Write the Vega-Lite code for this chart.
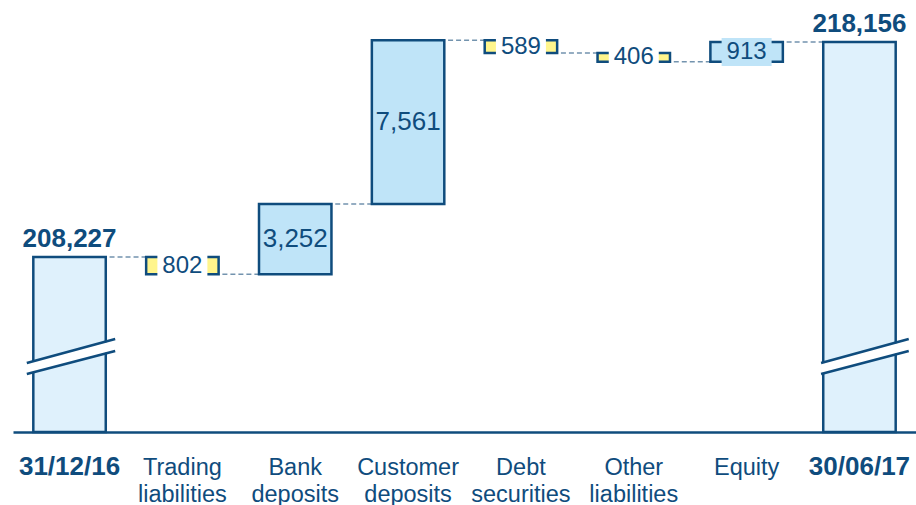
{
  "$schema": "https://vega.github.io/schema/vega-lite/v6.json",
  "width": 903,
  "height": 432,
  "autosize": "none",
  "padding": {"left": 13, "top": 0, "right": 0, "bottom": 73},
  "background": "white",
  "config": {"view": {"stroke": null}, "font": "Liberation Sans"},
  "resolve": {"scale": {"xOffset": "independent"}},
  "datasets": {
    "steps": [
      {"cat": "31/12/16", "lo": 200145, "hi": 208227, "mid": 204186, "kind": "total", "label": "208,227"},
      {"cat": "Trading liabilities", "lo": 207425, "hi": 208227, "mid": 207826, "kind": "down", "label": "802"},
      {"cat": "Bank deposits", "lo": 207425, "hi": 210677, "mid": 209051, "kind": "up", "label": "3,252"},
      {"cat": "Customer deposits", "lo": 210677, "hi": 218238, "mid": 214457, "kind": "up", "label": "7,561"},
      {"cat": "Debt securities", "lo": 217649, "hi": 218238, "mid": 217943, "kind": "down", "label": "589"},
      {"cat": "Other liabilities", "lo": 217243, "hi": 217649, "mid": 217446, "kind": "down", "label": "406"},
      {"cat": "Equity", "lo": 217243, "hi": 218156, "mid": 217699, "kind": "up", "label": "913"},
      {"cat": "30/06/17", "lo": 200145, "hi": 218156, "mid": 209150, "kind": "total", "label": "218,156"}
    ],
    "links": [
      {"cat": "31/12/16", "cat2": "Trading liabilities", "level": 208227},
      {"cat": "Trading liabilities", "cat2": "Bank deposits", "level": 207425},
      {"cat": "Bank deposits", "cat2": "Customer deposits", "level": 210677},
      {"cat": "Customer deposits", "cat2": "Debt securities", "level": 218238},
      {"cat": "Debt securities", "cat2": "Other liabilities", "level": 217649},
      {"cat": "Other liabilities", "cat2": "Equity", "level": 217243},
      {"cat": "Equity", "cat2": "30/06/17", "level": 218156}
    ],
    "breaks": [
      {"cat": "31/12/16", "id": "s0", "type": "mid", "off": -0.09, "v": 203077},
      {"cat": "31/12/16", "id": "s0", "type": "mid", "off": 1.13, "v": 204163},
      {"cat": "31/12/16", "id": "s1", "type": "edge", "off": -0.09, "v": 203331},
      {"cat": "31/12/16", "id": "s1", "type": "edge", "off": 1.13, "v": 204440},
      {"cat": "31/12/16", "id": "s2", "type": "edge", "off": -0.09, "v": 202823},
      {"cat": "31/12/16", "id": "s2", "type": "edge", "off": 1.13, "v": 203886},
      {"cat": "30/06/17", "id": "e0", "type": "mid", "off": -0.03, "v": 203077},
      {"cat": "30/06/17", "id": "e0", "type": "mid", "off": 1.18, "v": 204163},
      {"cat": "30/06/17", "id": "e1", "type": "edge", "off": -0.03, "v": 203331},
      {"cat": "30/06/17", "id": "e1", "type": "edge", "off": 1.18, "v": 204440},
      {"cat": "30/06/17", "id": "e2", "type": "edge", "off": -0.03, "v": 202823},
      {"cat": "30/06/17", "id": "e2", "type": "edge", "off": 1.18, "v": 203886}
    ]
  },
  "encoding": {
    "x": {
      "field": "cat",
      "type": "nominal",
      "sort": null,
      "scale": {
        "domain": ["31/12/16", "Trading liabilities", "Bank deposits", "Customer deposits", "Debt securities", "Other liabilities", "Equity", "30/06/17"],
        "paddingInner": 0.358,
        "paddingOuter": 0.18
      },
      "axis": {
        "title": null,
        "orient": "bottom",
        "grid": false,
        "domainColor": "#0f4c7d",
        "domainWidth": 2.5,
        "ticks": false,
        "tickSize": 0,
        "labelPadding": 42,
        "labelBaseline": "alphabetic",
        "labelAngle": 0,
        "labelColor": "#0f4c7d",
        "labelFont": "Liberation Sans",
        "labelFontSize": {"condition": {"test": "indexof(datum.value, '/') > 0", "value": 26}, "value": 23.5},
        "labelFontWeight": {"condition": {"test": "indexof(datum.value, '/') > 0", "value": "bold"}, "value": "normal"},
        "labelLineHeight": 27,
        "labelExpr": "indexof(datum.value, ' ') > 0 ? split(datum.value, ' ') : datum.value",
        "labelOverlap": false,
        "labelBound": false,
        "labelLimit": 300
      }
    }
  },
  "layer": [
    {
      "data": {"name": "links"},
      "mark": {"type": "rule", "strokeDash": [5, 3], "strokeWidth": 1.5, "color": "#7393ae"},
      "encoding": {
        "x2": {"field": "cat2"},
        "y": {"field": "level", "type": "quantitative", "scale": {"domain": [200145, 220096], "nice": false, "zero": false}, "axis": null}
      }
    },
    {
      "data": {"name": "steps"},
      "mark": {"type": "bar", "stroke": "#0f4c7d", "strokeWidth": 2.5},
      "encoding": {
        "y": {"field": "lo", "type": "quantitative", "scale": {"domain": [200145, 220096], "nice": false, "zero": false}, "axis": null},
        "y2": {"field": "hi"},
        "color": {"field": "kind", "type": "nominal", "scale": {"domain": ["total", "up", "down"], "range": ["#dff1fc", "#bfe4f8", "#fff58c"]}, "legend": null}
      }
    },
    {
      "data": {"name": "breaks"},
      "transform": [{"filter": "datum.type == 'mid'"}],
      "mark": {"type": "line", "color": "white", "strokeWidth": 10, "strokeCap": "butt"},
      "encoding": {
        "xOffset": {"field": "off", "type": "quantitative", "scale": {"domain": [0, 1], "nice": false, "zero": false}},
        "y": {"field": "v", "type": "quantitative", "scale": {"domain": [200145, 220096], "nice": false, "zero": false}, "axis": null},
        "detail": {"field": "id"},
        "order": {"field": "off"}
      }
    },
    {
      "data": {"name": "breaks"},
      "transform": [{"filter": "datum.type == 'edge'"}],
      "mark": {"type": "line", "color": "#0f4c7d", "strokeWidth": 2.5, "strokeCap": "butt"},
      "encoding": {
        "xOffset": {"field": "off", "type": "quantitative", "scale": {"domain": [0, 1], "nice": false, "zero": false}},
        "y": {"field": "v", "type": "quantitative", "scale": {"domain": [200145, 220096], "nice": false, "zero": false}, "axis": null},
        "detail": {"field": "id"},
        "order": {"field": "off"}
      }
    },
    {
      "data": {"name": "steps"},
      "transform": [{"filter": "datum.kind != 'total' && datum.hi - datum.lo < 1500"}],
      "mark": {"type": "point", "shape": "M-1,-0.56H1V0.56H-1Z", "size": 2500, "filled": true, "opacity": 1, "strokeWidth": 0},
      "encoding": {
        "y": {"field": "mid", "type": "quantitative", "scale": {"domain": [200145, 220096], "nice": false, "zero": false}, "axis": null},
        "fill": {"condition": {"test": "datum.kind == 'up'", "value": "#bfe4f8"}, "value": "white"}
      }
    },
    {
      "data": {"name": "steps"},
      "transform": [{"filter": "datum.kind != 'total' && datum.hi - datum.lo < 1500"}],
      "mark": {"type": "text", "baseline": "middle", "align": "center", "fontSize": 24, "color": "#0f4c7d", "font": "Liberation Sans"},
      "encoding": {
        "y": {"field": "mid", "type": "quantitative", "scale": {"domain": [200145, 220096], "nice": false, "zero": false}, "axis": null},
        "text": {"field": "label"}
      }
    },
    {
      "data": {"name": "steps"},
      "transform": [{"filter": "datum.kind != 'total' && datum.hi - datum.lo >= 1500"}],
      "mark": {"type": "text", "baseline": "middle", "align": "center", "fontSize": 26, "color": "#0f4c7d", "font": "Liberation Sans"},
      "encoding": {
        "y": {"field": "mid", "type": "quantitative", "scale": {"domain": [200145, 220096], "nice": false, "zero": false}, "axis": null},
        "text": {"field": "label"}
      }
    },
    {
      "data": {"name": "steps"},
      "transform": [{"filter": "datum.kind == 'total'"}],
      "mark": {"type": "text", "baseline": "alphabetic", "align": "center", "dy": -10, "fontSize": 26, "fontWeight": "bold", "color": "#0f4c7d", "font": "Liberation Sans"},
      "encoding": {
        "y": {"field": "hi", "type": "quantitative", "scale": {"domain": [200145, 220096], "nice": false, "zero": false}, "axis": null},
        "text": {"field": "label"}
      }
    }
  ]
}
